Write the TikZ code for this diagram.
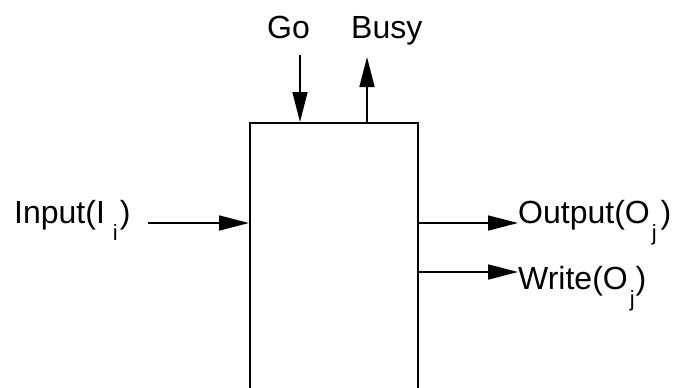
\documentclass[tikz,border=0pt]{standalone}
\usepackage{fontspec}
\setmainfont{Liberation Sans}
\usetikzlibrary{arrows.meta}
\newcommand{\lowsub}[3]{\hspace{#1}\raisebox{-17pt}{\fontsize{22}{22}\selectfont #3}\hspace{#2}}
\begin{document}
\begin{tikzpicture}[x=1pt,y=-1pt,
  lbl/.style={inner sep=0pt, anchor=base west, font=\fontsize{32}{32}\selectfont},
  conn/.style={line width=1.6pt, -{Triangle[length=30pt,width=15pt]}},
  blockbox/.style={draw, line width=1.8pt, anchor=north west, inner sep=0pt, minimum width=168pt, minimum height=300pt}]
\useasboundingbox (0,0) rectangle (675,388);
\clip (0,0) rectangle (675,388);
\node[blockbox] (box) at (249,122) {};
% labels
\node[lbl] (go) at (267,38) {Go};
\node[lbl] (busy) at (351,38) {Busy};
\node[lbl] (inp) at (14,223) {Input(I\lowsub{8pt}{2pt}{i})};
\node[lbl] (out) at (518,223) {Output(O\lowsub{2pt}{4pt}{j})};
\node[lbl] (wr) at (518,289) {Write(O\lowsub{2pt}{1pt}{j})};
% coordinates
\coordinate (gotop) at (300,55);
\coordinate (gobot) at (300,122);
\coordinate (busybot) at (367,122);
\coordinate (busytop) at (367,57);
\coordinate (inL) at (148,223);
\coordinate (inR) at (249,223);
\coordinate (outL) at (417,223);
\coordinate (outR) at (518,223);
\coordinate (wrL) at (417,272);
\coordinate (wrR) at (518,272);
% connectors
\draw[conn] (gotop) -- (gobot);
\draw[conn] (busybot) -- (busytop);
\draw[conn] (inL) -- (inR);
\draw[conn] (outL) -- (outR);
\draw[conn] (wrL) -- (wrR);
\end{tikzpicture}
\end{document}
